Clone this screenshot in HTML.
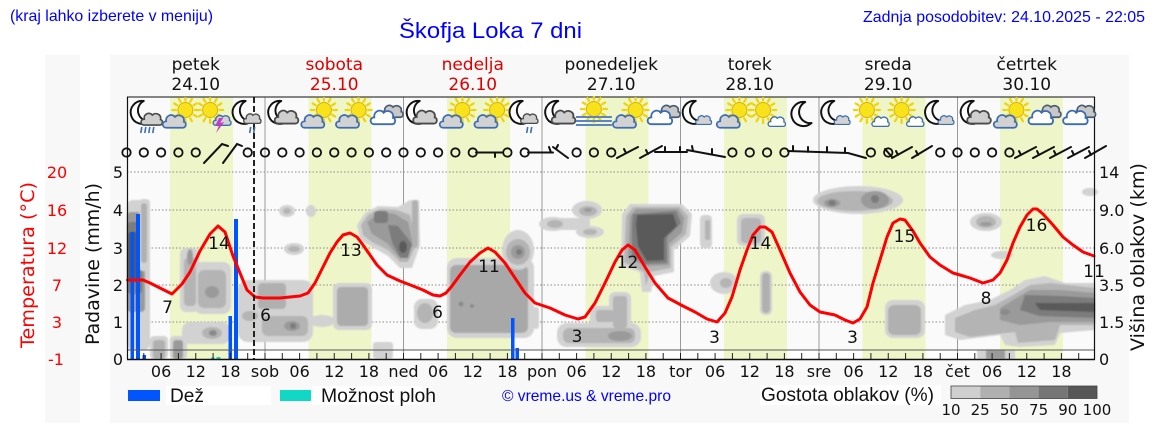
<!DOCTYPE html>
<html><head><meta charset="utf-8"><style>
html,body{margin:0;padding:0;background:#fff;}
svg{display:block;}
.dj{font-family:"DejaVu Sans",sans-serif;}
.ls{font-family:"Liberation Sans",Arial,sans-serif;}
</style></head><body>
<svg width="1152" height="443" viewBox="0 0 1152 443" xmlns="http://www.w3.org/2000/svg">
<defs>
<filter id="bl" x="-5%" y="-5%" width="110%" height="110%"><feGaussianBlur stdDeviation="0.7"/></filter>
<path id="cpath" d="M6,19 C0.5,19 0,11 6,11 C5,4 13,0.5 17,5.5 C21,1.5 29.5,4 28,11.5 C31.5,12 31.5,19 27,19 Z"/>
<g id="cb"><use href="#cpath" fill="#d2d2d2" stroke="#3c6cb4" stroke-width="2.2"/></g>
<g id="cd"><use href="#cpath" fill="#cfcfcf" stroke="#4a4a4a" stroke-width="2.2"/></g>
<g id="cw"><use href="#cpath" fill="#ffffff" stroke="#3c6cb4" stroke-width="2.2"/></g>
<g id="cg"><use href="#cpath" fill="#c8c8c8" stroke="#4a5a70" stroke-width="2.2"/></g>
<g id="moon"><path d="M10,1 A11.5,11.5 0 1 0 16,21 A10.6,10.6 0 0 1 10,1 Z" fill="#fff" stroke="#111" stroke-width="1.9" stroke-linejoin="round"/></g>
<g id="sun"><g stroke="#f2d400" stroke-width="2.3" stroke-linecap="round">
<line x1="9.5" y1="0" x2="13" y2="0"/><line x1="8.2" y1="4.75" x2="11.2" y2="6.5"/><line x1="4.75" y1="8.2" x2="6.5" y2="11.2"/><line x1="0" y1="9.5" x2="0" y2="13"/><line x1="-4.75" y1="8.2" x2="-6.5" y2="11.2"/><line x1="-8.2" y1="4.75" x2="-11.2" y2="6.5"/><line x1="-9.5" y1="0" x2="-13" y2="0"/><line x1="-8.2" y1="-4.75" x2="-11.2" y2="-6.5"/><line x1="-4.75" y1="-8.2" x2="-6.5" y2="-11"/><line x1="0" y1="-9.5" x2="0" y2="-12"/><line x1="4.75" y1="-8.2" x2="6.5" y2="-11"/><line x1="8.2" y1="-4.75" x2="11.2" y2="-6.5"/></g>
<circle r="7.5" fill="#f7e21c" stroke="#dcb000" stroke-width="1"/></g>
<!-- icon types, centered at x=0 -->
<g id="iA"><use href="#moon" transform="translate(-10,100)"/><use href="#cd" transform="translate(-4,111) scale(0.74)"/>
<g stroke="#3c6cb4" stroke-width="1.6"><line x1="-2" y1="127" x2="-3" y2="133"/><line x1="2" y1="127" x2="1" y2="133"/><line x1="6" y1="127" x2="5" y2="133"/><line x1="10" y1="127" x2="9" y2="133"/></g></g>
<g id="iB"><use href="#sun" transform="translate(7,110)"/><use href="#cb" transform="translate(-17,112.5) scale(0.8)"/></g>
<g id="iC"><use href="#sun" transform="translate(-3,110)"/><use href="#cb" transform="translate(-1,113.5) scale(0.62)"/>
<polygon points="6,118 2,126 6,125 3,133 11,122 7,123 10,118" fill="#c23bc2"/></g>
<g id="iD"><use href="#moon" transform="translate(-12,100)"/><use href="#cd" transform="translate(-5,112) scale(0.6)"/>
<g stroke="#3c6cb4" stroke-width="1.6"><line x1="3" y1="127" x2="2" y2="133"/><line x1="7" y1="127" x2="6" y2="133"/></g></g>
<g id="iE"><use href="#moon" transform="translate(-11,100)"/><use href="#cd" transform="translate(-9,108) scale(0.82)"/></g>
<g id="iF"><use href="#cg" transform="translate(-6,103) scale(0.75)"/><use href="#cw" transform="translate(-17,108) scale(0.85)"/></g>
<g id="iG"><use href="#sun" transform="translate(0,109)"/><g stroke="#5b84c4" stroke-width="2"><line x1="-18" y1="117" x2="18" y2="117"/><line x1="-18" y1="121" x2="18" y2="121"/><line x1="-18" y1="125" x2="18" y2="125"/></g></g>
<g id="iH"><use href="#sun" transform="translate(-4,110)"/><use href="#cw" transform="translate(0,115) scale(0.6)"/></g>
<g id="iI"><use href="#moon" transform="translate(-7,101) scale(1.05)"/></g>
<g id="iJ"><use href="#moon" transform="translate(-12,100)"/><use href="#cb" transform="translate(-3,114) scale(0.55)"/></g>
</defs>

<!-- panels -->
<rect x="45" y="55" width="35" height="368" fill="#f8f8f8"/>
<rect x="110" y="55" width="1019" height="368" fill="#f8f8f8"/>
<rect x="127" y="97" width="968" height="262" fill="#fafafa"/>
<rect x="127" y="350" width="968" height="9" fill="#ffffff"/>

<!-- daylight -->
<g fill="#eef6c9">
<rect x="170" y="97" width="63" height="262"/>
<rect x="308.5" y="97" width="63" height="262"/>
<rect x="447" y="97" width="63" height="262"/>
<rect x="585.5" y="97" width="63" height="262"/>
<rect x="724" y="97" width="63" height="262"/>
<rect x="862.5" y="97" width="63" height="262"/>
<rect x="1000" y="97" width="63" height="262"/>
</g>

<!-- gridlines -->
<g stroke="#8a8a8a" stroke-width="1" stroke-dasharray="1.5,2">
<line x1="127" y1="172" x2="1095" y2="172"/>
<line x1="127" y1="210" x2="1095" y2="210"/>
<line x1="127" y1="248" x2="1095" y2="248"/>
<line x1="127" y1="285" x2="1095" y2="285"/>
<line x1="127" y1="322" x2="1095" y2="322"/>
</g>
<g stroke="#9a9a9a" stroke-width="1">
<line x1="265" y1="97" x2="265" y2="359"/><line x1="403.5" y1="97" x2="403.5" y2="359"/>
<line x1="542" y1="97" x2="542" y2="359"/><line x1="680.5" y1="97" x2="680.5" y2="359"/>
<line x1="819" y1="97" x2="819" y2="359"/><line x1="957.5" y1="97" x2="957.5" y2="359"/>
</g>

<!-- clouds -->
<g filter="url(#bl)">
<rect x="127" y="200" width="23" height="150" rx="6" fill="#d2d2d2"/>
<rect x="127" y="212" width="18" height="100" rx="4" fill="#9a9a9a"/>
<rect x="127" y="222" width="15" height="72" rx="4" fill="#7c7c7c"/>
<rect x="128" y="232" width="10" height="50" rx="3" fill="#5a5a5a"/>
<rect x="139" y="199" width="11" height="72" rx="4" fill="#d2d2d2"/>
<rect x="141" y="203" width="6" height="60" rx="3" fill="#b0b0b0"/>
<rect x="150" y="336" width="18" height="23" rx="4" fill="#d2d2d2"/>
<rect x="153" y="340" width="12" height="19" rx="3" fill="#b0b0b0"/>
<rect x="170" y="336" width="17" height="23" rx="4" fill="#d2d2d2"/>
<rect x="173" y="340" width="10" height="19" rx="3" fill="#9a9a9a"/>
<rect x="180" y="248" width="19" height="64" rx="6" fill="#d2d2d2"/>
<rect x="194" y="262" width="37" height="52" rx="8" fill="#d2d2d2"/>
<rect x="184" y="258" width="12" height="48" rx="4" fill="#b4b4b4"/>
<rect x="198" y="270" width="28" height="38" rx="6" fill="#b4b4b4"/>
<ellipse cx="190" cy="257" rx="3" ry="8" fill="#9a9a9a"/>
<ellipse cx="212" cy="292" rx="7" ry="6" fill="#9a9a9a"/>
<rect x="182" y="322" width="48" height="22" rx="8" fill="#d2d2d2"/>
<ellipse cx="212" cy="333" rx="10" ry="6" fill="#b4b4b4"/>
<ellipse cx="213" cy="333" rx="4" ry="3" fill="#8a8a8a"/>
<rect x="238" y="280" width="75" height="62" rx="10" fill="#d2d2d2"/>
<ellipse cx="250" cy="316" rx="8" ry="5" fill="#b4b4b4"/>
<rect x="258" y="283" width="28" height="26" rx="4" fill="#b0b0b0"/>
<rect x="262" y="316" width="46" height="20" rx="6" fill="#b4b4b4"/>
<ellipse cx="292" cy="326" rx="8" ry="5" fill="#9a9a9a"/>
<circle cx="293" cy="326" r="3" fill="#7c7c7c"/>
<ellipse cx="287" cy="211" rx="8" ry="6" fill="#d2d2d2"/><ellipse cx="287" cy="211" rx="4" ry="3" fill="#b4b4b4"/>
<ellipse cx="311" cy="211" rx="5" ry="6" fill="#d2d2d2"/>
<ellipse cx="294" cy="249" rx="10" ry="6" fill="#d2d2d2"/><ellipse cx="294" cy="249" rx="6" ry="3" fill="#b4b4b4"/>
<ellipse cx="322" cy="321" rx="13" ry="6" fill="#d2d2d2"/>
<rect x="333" y="283" width="39" height="47" rx="6" fill="#d2d2d2"/>
<rect x="337" y="287" width="31" height="39" rx="4" fill="#acacac"/>
<rect x="373" y="342" width="20" height="17" rx="3" fill="#d2d2d2"/>
<polygon points="357,225 365,213 378,206 398,207 410,200 419,200 420,245 412,268 400,268 388,256 374,248 360,240" fill="#d2d2d2"/>
<polygon points="361,225 368,215 380,209 397,210 410,215 416,245 408,262 400,262 388,250 372,242 363,235" fill="#b4b4b4"/>
<polygon points="367,222 380,212 395,214 408,222 413,245 405,258 398,256 387,243 372,234" fill="#9a9a9a"/>
<rect x="374" y="211" width="14" height="12" rx="3" fill="#7c7c7c"/>
<polygon points="388,225 398,226 412,244 408,258 400,258 392,242" fill="#7c7c7c"/>
<ellipse cx="403" cy="247" rx="4" ry="6" fill="#5a5a5a"/>
<rect x="412" y="200" width="6" height="48" rx="3" fill="#b0b0b0"/>
<rect x="414" y="299" width="24" height="30" rx="8" fill="#d2d2d2"/>
<ellipse cx="425" cy="313" rx="8" ry="10" fill="#b4b4b4"/>
<rect x="447" y="258" width="87" height="80" rx="10" fill="#d2d2d2"/>
<rect x="450" y="265" width="78" height="68" rx="6" fill="#a8a8a8"/>
<circle cx="461" cy="304" r="2.5" fill="#8a8a8a"/><circle cx="472" cy="306" r="2" fill="#8a8a8a"/>
<ellipse cx="518" cy="250" rx="16" ry="20" fill="#d2d2d2"/>
<ellipse cx="518" cy="252" rx="12" ry="13" fill="#b4b4b4"/>
<ellipse cx="518" cy="252" rx="7" ry="7" fill="#9a9a9a"/>
<circle cx="519" cy="252" r="3" fill="#7c7c7c"/>
<rect x="533" y="307" width="6" height="22" rx="3" fill="#d2d2d2"/>
<ellipse cx="553" cy="224" rx="14" ry="7" fill="#d2d2d2"/>
<ellipse cx="587" cy="210" rx="15" ry="9" fill="#d2d2d2"/>
<ellipse cx="590" cy="232" rx="14" ry="6" fill="#d2d2d2"/>
<rect x="560" y="218" width="30" height="12" fill="#d2d2d2"/>
<ellipse cx="555" cy="224" rx="8" ry="4" fill="#b4b4b4"/>
<ellipse cx="588" cy="211" rx="9" ry="5" fill="#b4b4b4"/>
<ellipse cx="590" cy="232" rx="7" ry="3" fill="#b4b4b4"/>
<ellipse cx="588" cy="210" rx="4" ry="2" fill="#9a9a9a"/>
<polygon points="622,214 630,204 682,204 692,214 690,236 674,250 674,272 654,276 651,292 642,292 640,272 621,266" fill="#d2d2d2"/>
<polygon points="626,216 633,207 680,207 688,216 686,234 671,247 671,268 650,272 646,286 644,272 624,262" fill="#b4b4b4"/>
<polygon points="630,216 636,209 678,209 684,218 682,232 669,244 669,265 646,266 628,258" fill="#9a9a9a"/>
<polygon points="633,214 676,211 681,223 667,237 667,263 645,264 632,255 632,225" fill="#7c7c7c"/>
<polygon points="637,215 673,214 677,226 664,238 664,260 647,261 638,246 636,225" fill="#5a5a5a"/>
<rect x="557" y="323" width="84" height="24" rx="10" fill="#d2d2d2"/>
<rect x="609" y="292" width="22" height="35" rx="6" fill="#d2d2d2"/>
<rect x="590" y="306" width="25" height="20" rx="6" fill="#d2d2d2"/>
<rect x="563" y="328" width="72" height="15" rx="6" fill="#b4b4b4"/>
<rect x="613" y="296" width="14" height="32" rx="3" fill="#b4b4b4"/>
<rect x="596" y="310" width="18" height="12" rx="3" fill="#b4b4b4"/>
<ellipse cx="620" cy="336" rx="12" ry="5" fill="#9a9a9a"/>
<rect x="700" y="215" width="12" height="33" rx="4" fill="#d2d2d2"/>
<rect x="705" y="220" width="5" height="20" rx="2" fill="#b4b4b4"/>
<ellipse cx="724" cy="283" rx="14" ry="11" fill="#d2d2d2"/>
<ellipse cx="726" cy="283" rx="6" ry="5" fill="#b4b4b4"/>
<rect x="737" y="214" width="28" height="32" rx="6" fill="#d2d2d2"/>
<rect x="741" y="218" width="20" height="25" rx="4" fill="#b4b4b4"/>
<rect x="760" y="271" width="12" height="44" rx="5" fill="#d2d2d2"/>
<rect x="762" y="273" width="8" height="40" rx="4" fill="#b0b0b0"/>
<ellipse cx="858" cy="200" rx="45" ry="14" fill="#d2d2d2"/>
<ellipse cx="855" cy="201" rx="38" ry="10" fill="#b4b4b4"/>
<ellipse cx="875" cy="200" rx="14" ry="9" fill="#9a9a9a"/>
<ellipse cx="832" cy="203" rx="8" ry="4" fill="#9a9a9a"/>
<circle cx="875" cy="199" r="4" fill="#7c7c7c"/>
<ellipse cx="832" cy="203" rx="4" ry="3" fill="#7c7c7c"/>
<rect x="885" y="300" width="40" height="38" rx="8" fill="#d2d2d2"/>
<rect x="888" y="305" width="33" height="30" rx="6" fill="#b0b0b0"/>
<ellipse cx="1090" cy="192" rx="8" ry="4" fill="#d2d2d2"/>
<ellipse cx="986" cy="222" rx="16" ry="9" fill="#d2d2d2"/>
<ellipse cx="986" cy="222" rx="10" ry="6" fill="#b4b4b4"/>
<ellipse cx="986" cy="224" rx="6" ry="2" fill="#9a9a9a"/>
<ellipse cx="1002" cy="255" rx="11" ry="4" fill="#d2d2d2"/>
<polygon points="945,315 965,305 990,300 1010,290 1025,280 1045,276 1065,283 1095,283 1095,330 1060,333 1055,345 1020,347 1005,345 1000,335 960,340 945,335" fill="#d2d2d2"/>
<polygon points="955,318 975,310 995,305 1015,294 1030,285 1050,283 1095,288 1095,325 1060,325 1055,340 1018,343 1015,332 970,337 955,332" fill="#b4b4b4"/>
<polygon points="1000,308 1030,290 1060,290 1095,293 1095,322 1050,322 1020,325 1000,320" fill="#9a9a9a"/>
<polygon points="1025,295 1060,296 1095,298 1095,318 1040,316 1020,310" fill="#7c7c7c"/>
<polygon points="1035,303 1095,303 1095,312 1040,310" fill="#5a5a5a"/>
<ellipse cx="1005" cy="312" rx="5" ry="3" fill="#8a8a8a"/>
<rect x="977" y="350" width="38" height="9" fill="#d2d2d2"/>
<rect x="986" y="350" width="19" height="9" fill="#9a9a9a"/>
</g>

<!-- precipitation bars -->
<g fill="#0055ff">
<rect x="130.5" y="232" width="3.5" height="127"/>
<rect x="136" y="214" width="4" height="145"/>
<rect x="142.5" y="355" width="3.5" height="4"/>
<rect x="228.5" y="316" width="3.5" height="43"/>
<rect x="234" y="219" width="4" height="140"/>
<rect x="511" y="318" width="3.5" height="41"/>
<rect x="515.5" y="348" width="3.5" height="11"/>
</g>
<g fill="#10d8c4">
<rect x="211" y="357.5" width="3.5" height="1.5"/>
<rect x="216.5" y="357" width="4" height="2"/>
</g>

<!-- strip line & ticks -->
<line x1="127" y1="350" x2="1095" y2="350" stroke="#555" stroke-width="1"/>
<g stroke="#222" stroke-width="1">
<path d="M143.8,353V359M161.1,353V359M178.4,353V359M195.75,353V359M213.1,353V359M230.4,353V359M247.7,353V359M265,353V359M282.3,353V359M299.6,353V359M316.9,353V359M334.25,353V359M351.6,353V359M368.9,353V359M386.2,353V359M403.5,353V359M420.8,353V359M438.1,353V359M455.4,353V359M472.75,353V359M490.1,353V359M507.4,353V359M524.7,353V359M542,353V359M559.3,353V359M576.6,353V359M593.9,353V359M611.25,353V359M628.6,353V359M645.9,353V359M663.2,353V359M680.5,353V359M697.8,353V359M715.1,353V359M732.4,353V359M749.75,353V359M767.1,353V359M784.4,353V359M801.7,353V359M819,353V359M836.3,353V359M853.6,353V359M870.9,353V359M888.25,353V359M905.6,353V359M922.9,353V359M940.2,353V359M957.5,353V359M974.8,353V359M992.1,353V359M1009.4,353V359M1026.75,353V359M1044.1,353V359M1061.4,353V359M1078.7,353V359"/>
</g>

<!-- temperature line -->
<polyline fill="none" stroke="#ff0000" stroke-width="3" stroke-linejoin="round" stroke-linecap="round" points="127.5,280 143,280 150,283 160,288 172,294 182,284 190,272 200,251 210,234 218,226 225,232 233,256 240,273 247,290 255,297 263,298 280,298 300,296 308,293 315,283 323,267 330,253 337,242 343,235 350,233 357,237 363,245 370,255 377,265 387,275 400,281 413,286 423,290 433,295 440,296 446,293 452,286 460,275 470,262 480,253 488,248 495,252 505,263 515,278 525,293 535,303 550,308 565,315 578,319 585,317 595,303 605,283 615,262 622,250 628,245 635,250 645,267 655,283 668,298 683,306 695,312 707,319 717,322 725,313 732,297 740,270 747,250 753,235 760,227 765,227 772,232 780,250 790,273 800,292 810,305 820,312 835,315 845,320 853,323 860,319 867,307 873,283 880,260 887,237 893,223 900,219 905,220 913,231 920,243 930,257 940,265 953,273 960,275 970,278 983,283 993,280 1000,273 1007,260 1013,243 1020,227 1027,215 1033,209 1037,209 1043,214 1053,225 1063,237 1073,245 1083,252 1094,256"/>

<!-- temperature labels -->
<g class="dj" font-size="17" fill="#111" text-anchor="middle">
<text x="167.5" y="313">7</text><text x="219" y="249">14</text>
<text x="265.5" y="321">6</text><text x="351" y="256">13</text>
<text x="437.5" y="318">6</text><text x="489" y="272">11</text>
<text x="577" y="342">3</text><text x="627.5" y="268">12</text>
<text x="714.5" y="343">3</text><text x="760.5" y="249">14</text>
<text x="852.5" y="343">3</text><text x="904.5" y="242">15</text>
<text x="986" y="304">8</text><text x="1036.5" y="231">16</text>
<text x="1094" y="277">11</text>
</g>

<!-- now line -->
<line x1="254" y1="97" x2="254" y2="359" stroke="#222" stroke-width="2" stroke-dasharray="6,3"/>

<!-- spines -->
<g stroke="#111" fill="none">
<line x1="127" y1="97" x2="1095" y2="97" stroke-width="1"/>
<line x1="127.5" y1="97" x2="127.5" y2="359.5" stroke-width="1.2"/>
<line x1="1094.5" y1="97" x2="1094.5" y2="359.5" stroke-width="1.2"/>
<line x1="127" y1="359.5" x2="1095" y2="359.5" stroke-width="1.5"/>
</g>

<!-- icons -->
<use href="#iA" x="143.8"/><use href="#iB" x="178.4"/><use href="#iC" x="213.1"/><use href="#iD" x="247.7"/>
<use href="#iE" x="282.3"/><use href="#iB" x="316.9"/><use href="#iB" x="351.6"/><use href="#iF" x="386.2"/>
<use href="#iE" x="420.8"/><use href="#iB" x="455.4"/><use href="#iB" x="490.1"/><use href="#iD" x="524.7"/>
<use href="#iE" x="559.3"/><use href="#iG" x="593.9"/><use href="#iB" x="628.6"/><use href="#iF" x="663.2"/>
<use href="#iJ" x="697.8"/><use href="#iB" x="732.4"/><use href="#iH" x="767.1"/><use href="#iI" x="801.7"/>
<use href="#iJ" x="836.3"/><use href="#iH" x="870.9"/><use href="#iH" x="905.6"/><use href="#iJ" x="940.2"/>
<use href="#iE" x="974.8"/><use href="#iB" x="1009.4"/><use href="#iF" x="1044.1"/><use href="#iF" x="1078.7"/>

<!-- wind -->
<g fill="none" stroke="#111" stroke-width="1.8">
<circle cx="126.5" cy="152.5" r="4.2"/><circle cx="143.8" cy="152.5" r="4.2"/><circle cx="161.1" cy="152.5" r="4.2"/><circle cx="178.4" cy="152.5" r="4.2"/><circle cx="195.75" cy="152.5" r="4.2"/>
<circle cx="247.7" cy="152.5" r="4.2"/><circle cx="265" cy="152.5" r="4.2"/><circle cx="282.3" cy="152.5" r="4.2"/><circle cx="299.6" cy="152.5" r="4.2"/><circle cx="316.9" cy="152.5" r="4.2"/><circle cx="334.25" cy="152.5" r="4.2"/><circle cx="351.6" cy="152.5" r="4.2"/><circle cx="368.9" cy="152.5" r="4.2"/><circle cx="386.2" cy="152.5" r="4.2"/>
<circle cx="403.5" cy="152.5" r="4.2"/><circle cx="420.8" cy="152.5" r="4.2"/><circle cx="438.1" cy="152.5" r="4.2"/><circle cx="455.4" cy="152.5" r="4.2"/><circle cx="472.75" cy="152.5" r="4.2"/>
<circle cx="507.4" cy="152.5" r="4.2"/><circle cx="524.7" cy="152.5" r="4.2"/>
<circle cx="576.6" cy="152.5" r="4.2"/><circle cx="593.9" cy="152.5" r="4.2"/><circle cx="611.25" cy="152.5" r="4.2"/>
<circle cx="732.4" cy="152.5" r="4.2"/><circle cx="749.75" cy="152.5" r="4.2"/><circle cx="767.1" cy="152.5" r="4.2"/><circle cx="784.4" cy="152.5" r="4.2"/>
<circle cx="870.9" cy="152.5" r="4.2"/><circle cx="888.25" cy="152.5" r="4.2"/>
<circle cx="940.2" cy="152.5" r="4.2"/><circle cx="957.5" cy="152.5" r="4.2"/><circle cx="974.8" cy="152.5" r="4.2"/><circle cx="992.1" cy="152.5" r="4.2"/><circle cx="1009.4" cy="152.5" r="4.2"/>
</g>
<g fill="none" stroke="#111" stroke-width="2" stroke-linecap="round">
<path d="M204,163L222,144L228,146"/>
<path d="M223,163L237,144L242,146"/>
<path d="M476,152.5H503M495,152.5V157"/>
<path d="M528,152.5H553M551,152.5L549,147"/>
<path d="M553,147L568,158M556,149L558,145"/>
<path d="M617,158L638,147M626,153L624,149"/>
<path d="M640,158L662,146M648,154L646,150"/>
<path d="M655,152H687M665,152V147M680,152V147"/>
<path d="M687,150L725,157M693,151L692,146M712,154L712,149"/>
<path d="M788,151L848,153L866,158M793,151V146M808,152V147M827,152V147M845,153V148"/>
<path d="M885,149L892,157"/>
<path d="M892,158L912,147M898,155L896,151"/>
<path d="M912,158L932,146M918,155L916,151"/>
<path d="M1015,158L1036,147M1021,155L1019,151"/>
<path d="M1033,158L1054,147M1039,155L1037,151"/>
<path d="M1050,158L1071,147M1056,155L1054,151"/>
<path d="M1068,158L1089,147M1074,155L1072,151"/>
<path d="M1085,158L1106,146M1091,155L1089,151"/>
</g>

<!-- header texts -->
<text class="ls" x="10" y="21" font-size="16" fill="#0000ff" textLength="203" lengthAdjust="spacingAndGlyphs">(kraj lahko izberete v meniju)</text>
<text class="ls" x="399" y="38" font-size="22" fill="#0000ff" textLength="183" lengthAdjust="spacingAndGlyphs">Škofja Loka 7 dni</text>
<text class="ls" x="1145" y="22" font-size="16" fill="#0000ff" text-anchor="end" textLength="282" lengthAdjust="spacingAndGlyphs">Zadnja posodobitev: 24.10.2025 - 22:05</text>

<!-- day headers -->
<g class="dj" font-size="17" text-anchor="middle">
<text x="195.75" y="70" fill="#111">petek</text><text x="195.75" y="90" fill="#111">24.10</text>
<text x="334.25" y="70" fill="#dd0000">sobota</text><text x="334.25" y="90" fill="#dd0000">25.10</text>
<text x="472.75" y="70" fill="#dd0000">nedelja</text><text x="472.75" y="90" fill="#dd0000">26.10</text>
<text x="611.25" y="70" fill="#111">ponedeljek</text><text x="611.25" y="90" fill="#111">27.10</text>
<text x="749.75" y="70" fill="#111">torek</text><text x="749.75" y="90" fill="#111">28.10</text>
<text x="888.25" y="70" fill="#111">sreda</text><text x="888.25" y="90" fill="#111">29.10</text>
<text x="1026.75" y="70" fill="#111">četrtek</text><text x="1026.75" y="90" fill="#111">30.10</text>
</g>

<!-- x tick labels -->
<g class="dj" font-size="16" fill="#111" text-anchor="middle">
<text x="161.1" y="377">06</text><text x="195.75" y="377">12</text><text x="230.4" y="377">18</text>
<text x="265" y="377">sob</text>
<text x="299.6" y="377">06</text><text x="334.25" y="377">12</text><text x="368.9" y="377">18</text>
<text x="403.5" y="377">ned</text>
<text x="438.1" y="377">06</text><text x="472.75" y="377">12</text><text x="507.4" y="377">18</text>
<text x="542" y="377">pon</text>
<text x="576.6" y="377">06</text><text x="611.25" y="377">12</text><text x="645.9" y="377">18</text>
<text x="680.5" y="377">tor</text>
<text x="715.1" y="377">06</text><text x="749.75" y="377">12</text><text x="784.4" y="377">18</text>
<text x="819" y="377">sre</text>
<text x="853.6" y="377">06</text><text x="888.25" y="377">12</text><text x="922.9" y="377">18</text>
<text x="957.5" y="377">čet</text>
<text x="992.1" y="377">06</text><text x="1026.75" y="377">12</text><text x="1061.4" y="377">18</text>
</g>

<!-- left precip axis -->
<g class="dj" font-size="16" fill="#111" text-anchor="end">
<text x="123" y="178">5</text><text x="123" y="216">4</text><text x="123" y="254">3</text>
<text x="123" y="291">2</text><text x="123" y="328">1</text><text x="123" y="365">0</text>
</g>
<text class="dj" font-size="19" fill="#111" text-anchor="middle" transform="translate(99,264) rotate(-90)" textLength="162" lengthAdjust="spacingAndGlyphs">Padavine (mm/h)</text>
<!-- temperature axis -->
<g class="dj" font-size="16" fill="#ff0000" text-anchor="middle">
<text x="57" y="178">20</text><text x="57" y="216">16</text><text x="57" y="254">12</text>
<text x="57" y="291">7</text><text x="57" y="328">3</text><text x="56" y="365">-1</text>
</g>
<text class="dj" font-size="19" fill="#ff0000" text-anchor="middle" transform="translate(34,265) rotate(-90)" textLength="166" lengthAdjust="spacingAndGlyphs">Temperatura (°C)</text>
<!-- right axis -->
<g class="dj" font-size="16" fill="#111">
<text x="1099" y="178">14</text><text x="1099" y="216">9.0</text><text x="1099" y="254">6.0</text>
<text x="1099" y="291">3.5</text><text x="1099" y="328">1.5</text><text x="1099" y="365">0</text>
</g>
<text class="dj" font-size="19" fill="#111" text-anchor="middle" transform="translate(1144,257) rotate(-90)" textLength="188" lengthAdjust="spacingAndGlyphs">Višina oblakov (km)</text>

<!-- legend -->
<rect x="128" y="390" width="32" height="11" fill="#0055ff"/>
<rect x="166" y="386" width="105" height="19" fill="#ffffff"/>
<text class="ls" x="170" y="402" font-size="19" fill="#111" textLength="34" lengthAdjust="spacingAndGlyphs">Dež</text>
<rect x="280" y="390" width="31" height="11" fill="#10d8c4"/>
<rect x="312" y="386" width="110" height="19" fill="#ffffff"/>
<text class="ls" x="321" y="402" font-size="19" fill="#111" textLength="115" lengthAdjust="spacingAndGlyphs">Možnost ploh</text>
<text class="ls" x="502" y="401" font-size="16" fill="#0000ff" textLength="169" lengthAdjust="spacingAndGlyphs">© vreme.us &amp; vreme.pro</text>
<rect x="760" y="385" width="181" height="20" fill="#ffffff"/>
<text class="ls" x="761" y="401" font-size="19" fill="#111" textLength="173" lengthAdjust="spacingAndGlyphs">Gostota oblakov (%)</text>
<rect x="951" y="386" width="29.2" height="12.5" fill="#cfcfcf"/>
<rect x="980.2" y="386" width="29.2" height="12.5" fill="#b0b0b0"/>
<rect x="1009.4" y="386" width="29.2" height="12.5" fill="#959595"/>
<rect x="1038.6" y="386" width="29.2" height="12.5" fill="#767676"/>
<rect x="1067.8" y="386" width="29.2" height="12.5" fill="#575757"/>
<rect x="951" y="386" width="146" height="12.5" fill="none" stroke="#444" stroke-width="0.8"/>
<g class="dj" font-size="15" fill="#111" text-anchor="middle">
<text x="951" y="415">10</text><text x="980.2" y="415">25</text><text x="1009.4" y="415">50</text>
<text x="1038.6" y="415">75</text><text x="1067.8" y="415">90</text><text x="1097" y="415">100</text>
</g>
</svg>
</body></html>
